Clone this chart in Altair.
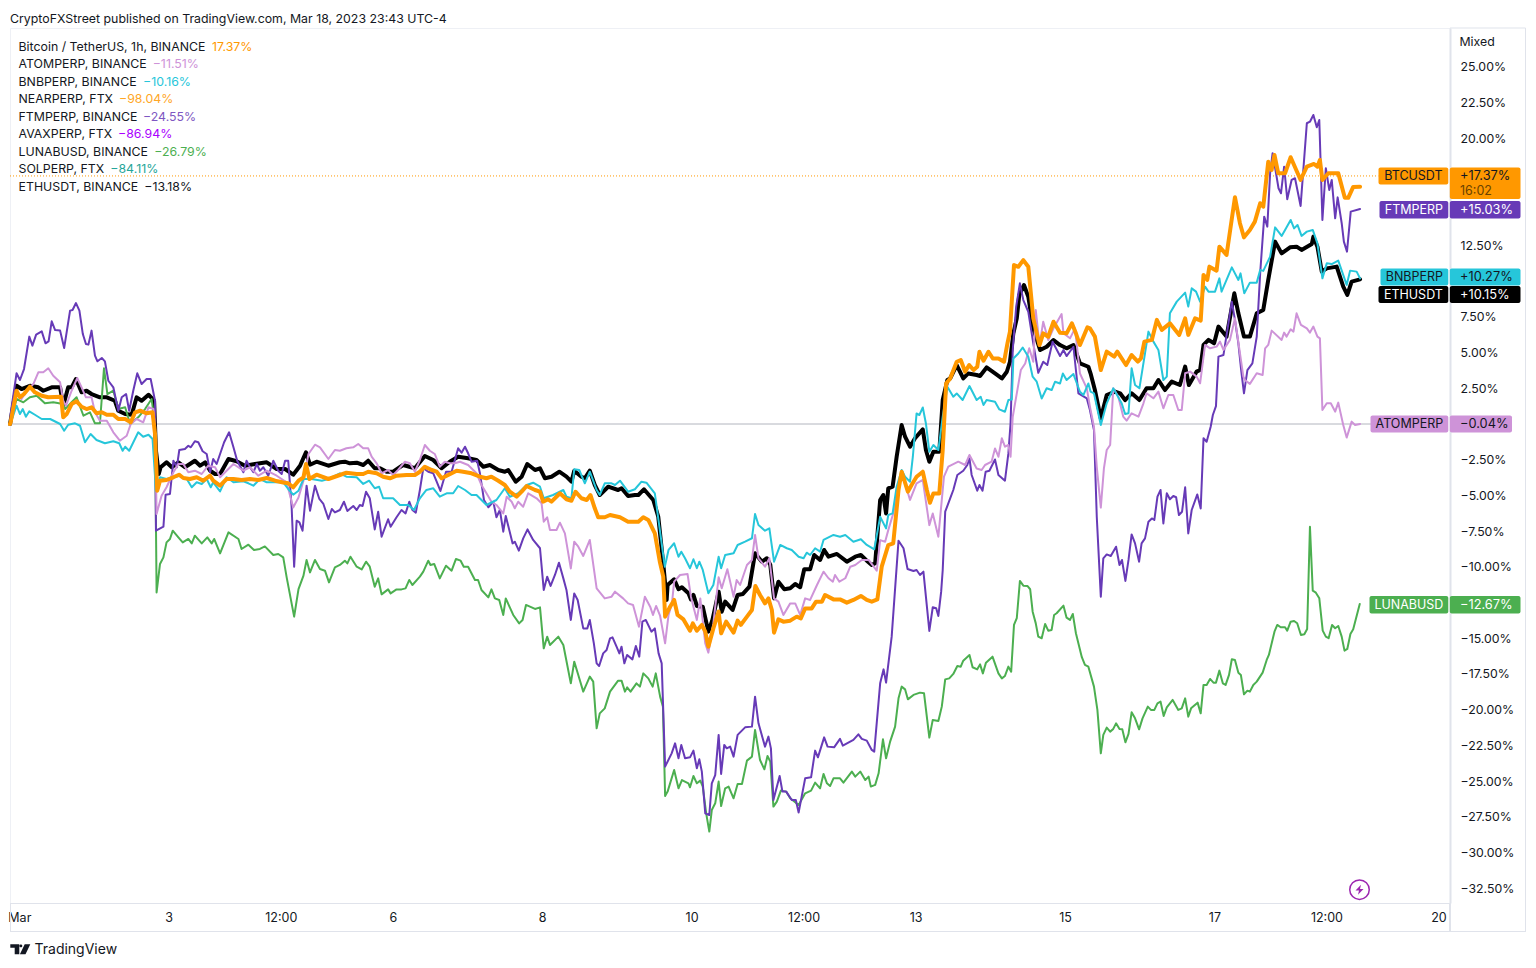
import altair as alt
import pandas as pd

# Each series: (hours since start of the chart, percent change)
BTC = [(0,0),(0.2,0.12),(2.1,2.33),(3.2,1.87),(4.5,2.1),(6.4,2.61),(8,2.22),(10.2,1.98),(12.3,1.87),(16.4,1.91),(17.1,0.47),(18.2,0.7),(19.8,1.4),(21.4,1.59),(23,1.21),(24.6,1.05),(26.2,1.17),(27.8,0.75),(29.5,0.82),(31.1,0.65),(33.2,0.65),(34.8,0.35),(37,0.35),(38.8,0.12),(40.2,0.82),(41.8,0.93),(43.9,0.75),(45.8,0.82),(46.6,-0.7),(47.3,-4.67),(48.2,-3.97),(50.3,-3.92),(52.5,-3.73),(54.3,-3.55),(55.7,-3.78),(57.8,-3.85),(60,-3.73),(62.1,-3.97),(64.3,-3.62),(65.3,-3.97),(67.5,-4.32),(69.6,-3.85),(71.8,-3.85),(74.4,-3.92),(77.1,-3.85),(79.8,-3.92),(82.5,-3.78),(85.2,-3.97),(87.8,-4.09),(89.4,-4.15),(91,-4.43),(92.7,-3.97),(94.3,-3.73),(95.1,-2.8),(96.2,-3.85),(98.5,-3.55),(102.3,-3.85),
(106,-3.57),(108.1,-3.41),(111.4,-3.5),(113.5,-3.5),(115.1,-3.34),(117.8,-3.45),(119.9,-3.69),(122.1,-3.8),(124.2,-3.62),(127.4,-3.57),(130.1,-3.57),(131.7,-3.34),(133.3,-2.99),(135.5,-3.22),(137.1,-3.34),(138.7,-3.8),(140.8,-3.57),(143.5,-3.27),(145.6,-3.34),(148.3,-3.45),(151,-3.69),(153.1,-3.8),(154.7,-3.69),(156.9,-3.97),(159,-4.27),(160.6,-4.74),(162.8,-5.09),(164.4,-4.74),(166,-4.34),(168.7,-4.62),(170.3,-4.74),(171.3,-5.44),(172.9,-5.27),(174,-5.44),(176.7,-4.85),(178.8,-5.27),(180.4,-5.37),(181.7,-4.74),(183.6,-5.2),(185.3,-5.32),(186.5,-4.97),(187.9,-5.9),(189,-6.53),(191.1,-6.53),(192.8,-6.37),(196,-6.53),(198.6,-6.84),(201.9,-6.84),(203.5,-6.53),(205.1,-6.72),(207.2,-7.66),(208.8,-9.64),(209.9,-10.69),
(210.5,-13.49),(212.1,-12.79),(213.4,-12.32),(214.5,-13.37),(216.4,-13.68),(218.5,-14.47),(219.4,-13.96),(220.7,-14.47),(222.3,-14.07),(223.4,-14.54),(224.4,-15.59),(226,-14.31),(227.7,-13.14),(228.5,-14.66),(230.1,-13.84),(232.5,-14.61),(233.8,-13.77),(234.8,-14.07),(236.8,-13.49),(238.4,-13.02),(239.5,-11.34),(241,-11.97),(242.6,-12.56),(243.7,-12.21),(244.8,-13.02),(245.5,-14.61),(246.9,-13.68),(248.5,-13.84),(250.7,-13.77),(252.8,-13.49),(254.1,-13.61),(255.5,-12.91),(257.6,-12.91),(259,-12.44),(260.9,-12.44),(261.9,-11.97),(264.6,-12.28),(266.7,-12.28),(268.9,-12.51),(271,-12.32),(273.4,-12.04),(275.3,-12.32),(276.9,-12.44),(278.7,-12.28),
(280.1,-9.99),(282.2,-8.48),(283.8,-8.36),(285.5,-4.62),(286.5,-3.34),(288.5,-4.74),(289.7,-4.27),(291.3,-3.69),(293.3,-3.34),(294.6,-4.62),(295.6,-5.51),(296.7,-4.86),(298.6,-4.86),(299.7,-1.82),(300.8,2.84),(302.1,3.19),(304.2,4.36),(305.5,4.48),(306.9,3.66),(308.2,4.13),(309.6,3.78),(310.8,4.01),(311.5,5.06),(312.8,4.43),(314.4,5.06),(315.8,4.59),(317.6,4.59),(319.4,4.36),(320.5,5.65),(321.3,6.46),(322.6,11.13),(324,11.01),(325.6,11.48),(327.2,11.01),(328.8,7.4),(330.8,5.53),(332,6.35),(333.6,6.11),(335.3,7.16),(337.4,6.39),(339.5,6.35),(341.2,7.05),(342.5,6.35),(343.8,5.53),(346.2,6.77),
(347,6.7),(348.6,6.12),(350.5,3.78),(352.4,5.07),(354.8,4.72),(355.8,5.07),(358.6,4.13),(360.4,4.83),(362.4,4.37),(363.4,4.6),(364.5,5.77),(366.9,5.89),(368.5,7.29),(370.1,6.59),(372.7,7.05),(375.7,6.24),(377.6,7.4),(378.6,6.24),(380.8,7.4),(382.6,7.24),(383.5,10.44),(384.7,10.09),(385.4,11.02),(387.7,10.74),(388.6,12.42),(390.9,11.84),(393.6,15.88),(395.2,14.06),(396.5,13.07),(398.4,13.59),(400,14.17),(401.7,15.46),(402.7,15.22),(404.3,18.37),(405.4,17.79),(406.3,18.84),(407.5,17.56),(409.7,17.56),(411.5,18.68),(414.7,17.09),(416.7,18.02),(419,18.21),(420.1,18.02),(420.9,18.49),(421.7,17.09),(423.6,17.56),(426.8,17.56),(428.9,15.84),(430,15.84),(431.6,16.6),(433.8,16.62)]

ETH = [(0,0),(0.2,0.23),(2.1,2.68),(3.7,2.45),(6.4,2.68),(9.1,2.57),(10.7,2.33),(13.4,2.57),(16.1,2.57),(17.1,1.28),(18.7,2.57),(19.8,2.57),(21.2,3.15),(23,2.22),(24.6,2.33),(26.2,2.1),(28.9,1.87),(31.1,1.87),(33.7,1.63),(34.8,0.93),(37,0.7),(39.1,0.65),(40.7,1.87),(42.3,1.63),(44.5,2.05),(46.3,1.63),(46.9,-1.87),(47.8,-3.5),(48.4,-3.03),(50.3,-2.68),(52,-3.03),(54.1,-2.68),(56.2,-3.03),(59.4,-2.57),(61.1,-2.92),(62.7,-2.68),(64.3,-3.27),(65.9,-3.5),(67.5,-3.5),(70.2,-2.45),(72.8,-2.61),(75.5,-2.92),(78.7,-2.8),(82.5,-2.68),(85.7,-3.15),(88.4,-3.15),(91,-3.55),(93.2,-2.92),(95.1,-1.98),(96.4,-2.85),(98.5,-2.64),(102.3,-2.92),
(106,-2.68),(107.6,-2.64),(109.2,-2.75),(111.4,-2.71),(113.5,-2.87),(115.1,-2.57),(117.2,-3.1),(118.9,-3.1),(121,-3.34),(123.1,-3.34),(126.3,-2.87),(130.1,-3.1),(133.3,-2.24),(136,-2.52),(138.7,-3.1),(141.3,-2.64),(144,-2.29),(147.2,-2.4),(149.9,-2.52),(152.1,-2.99),(154.2,-2.87),(156.9,-3.22),(159,-3.34),(160.1,-3.22),(162.5,-4.04),(164.4,-3.69),(166.2,-2.8),(168.7,-3.22),(170.3,-3.1),(171.9,-3.8),(174,-3.69),(176.5,-3.34),(178.8,-3.69),(180.4,-4.04),(181.3,-3.27),(183.6,-3.69),(184.7,-3.8),(186.3,-3.27),(187.9,-4.27),(189.5,-4.97),(192.2,-4.39),(195.4,-4.62),(196.5,-4.5),(198.6,-5.04),(200.8,-4.97),(201.9,-4.97),(203.7,-4.57),(206.7,-5.32),(208.3,-6.49),(209.9,-9.76),(211,-12.32),
(211.3,-11.27),(213.4,-10.87),(214.8,-11.57),(215.9,-11.43),(218,-11.85),(218.8,-12.28),(219.6,-11.97),(220.7,-12.74),(222.6,-12.79),(224.4,-14.54),(225.7,-13.72),(227.7,-11.74),(228.7,-13.14),(229.8,-12.44),(232.2,-13.02),(233.8,-11.97),(235.5,-11.9),(237.6,-11.39),(239.4,-9.05),(241.6,-9.64),(243.2,-9.4),(244.3,-9.87),(245.5,-12.21),(246.9,-11.04),(248.8,-11.57),(250.7,-11.5),(252.3,-11.2),(253.9,-11.43),(255.2,-10.17),(257.1,-10.17),(258.4,-9.17),(260.3,-9.52),(261.6,-8.82),(263,-9.29),(265.7,-9.1),(268.9,-9.64),(271.6,-9.29),(273.4,-9.17),(275.3,-9.57),(276.9,-9.87),(278,-9.75),
(279.6,-5.32),(280.6,-4.97),(281.5,-6.26),(282.2,-4.51),(283.6,-4.39),(284.9,-2.29),(286.5,-0.07),(287.6,-0.89),(289.2,-1.59),(290.8,-1),(293.3,-0.38),(294.3,-1.82),(295.4,-2.64),(296.7,-1.94),(298.6,-1.94),(299.7,1.68),(301.2,3.08),(302.1,3.19),(304.2,4.13),(306.3,3.19),(307.9,3.54),(310.6,3.43),(311.7,3.36),(313.8,3.96),(316.5,3.54),(318.7,3.19),(320.3,3.66),(321.3,4.36),(322.4,6.35),(323.5,7.4),(324.3,9.03),(325.8,9.73),(327.2,8.91),(328.8,6.7),(331,5.18),(333.1,5.41),(335.3,5.88),(337.4,5.53),(339.5,5.3),(341.7,5.53),(343.8,4.24),(346.5,4.01),
(347.2,3.55),(348.6,2.38),(350.5,0.4),(352.4,2.03),(355.1,2.27),(356.7,2.15),(358.3,1.68),(360.4,2.15),(362.9,1.68),(365.2,2.5),(367.4,2.5),(369,3.08),(371.1,2.38),(373.3,2.97),(375.9,2.73),(377.6,4.02),(378.8,2.73),(381.3,3.67),(382.4,3.78),(383.5,5.54),(385.1,5.89),(386.9,5.65),(388.3,6.82),(390.9,6.12),(393.4,9.15),(394.7,7.75),(396.5,6.12),(398.4,6.12),(400.6,7.75),(402.7,7.99),(404.3,10.09),(406.5,12.77),(408.6,11.95),(411.3,12.37),(413.4,12.42),(415,12.19),(418.3,12.61),(418.8,13.12),(420.1,12.42),(421.5,10.67),(423.1,10.9),(426.3,11.02),(428.4,9.62),(429.7,9.04),(431.1,9.97),(433.8,10.13)]

BNB = [(0,0),(0.2,0.05),(2.1,1.28),(3.2,0.7),(4.1,1.05),(5.1,0.51),(6.2,0.89),(8,0.65),(10.2,0.35),(12.9,0.35),(16.1,0),(17.4,-0.47),(18.7,-0.05),(20.9,0.05),(22.5,-0.12),(24.1,-1.28),(25.9,-0.7),(27.8,-1.12),(30.5,-1.35),(33.2,-1.21),(35.1,-1.35),(36.2,-1.87),(37,-1.59),(38.3,-1.87),(41.2,-0.58),(42.8,-0.89),(44.5,-0.75),(45.8,-1.05),(46.9,-4.67),(48.2,-3.73),(50.3,-3.85),(52.5,-3.73),(54.6,-3.62),(56.8,-3.85),(58.4,-4.43),(60,-4.08),(61.6,-4.2),(63.2,-3.85),(64.5,-4.43),(65.3,-4.08),(67.5,-4.72),(69.6,-3.73),(71.8,-4.08),(75,-4.01),(76.6,-4.15),(78.2,-4.32),(80.3,-3.85),(82.5,-4.08),(87.8,-4.08),(89.4,-4.55),(91,-4.95),(92.7,-4.67),(94.3,-3.85),(96.9,-3.85),(100.2,-3.97),(102.3,-3.85),
(106,-3.45),(108.1,-3.69),(111.4,-3.73),(113.5,-4.2),(115.4,-3.97),(117.2,-4.5),(118.6,-4.39),(119.9,-5.2),(123.1,-5.2),(125.3,-5.67),(128,-5.67),(129.8,-6.02),(131.7,-5.2),(133.8,-4.62),(136,-4.5),(138.1,-5.09),(140.3,-4.85),(142.4,-4.85),(144,-4.34),(146.2,-4.62),(148.3,-4.97),(149.9,-4.97),(153.1,-5.67),(156.3,-5.32),(159,-4.5),(160.6,-5.09),(163.3,-4.85),(166,-4.27),(168.1,-4.11),(170.3,-4.39),(171.5,-5.2),(174.5,-4.97),(177.8,-4.62),(178.8,-5.09),(180.4,-5.2),(181.3,-3.17),(182.9,-3.22),(184.7,-4.15),(186.3,-3.34),(188.5,-4.62),(189.5,-4.97),(191.1,-4.15),(193.3,-4.15),(194.4,-4.27),(196,-3.97),(198.6,-4.74),(200.8,-4.57),(202.9,-4.04),(204.5,-4.11),(207.2,-4.85),(208.8,-7.42),(210.4,-9.99),
(211.6,-8.82),(213.4,-8.35),(214.8,-9.29),(215.7,-8.94),(216.9,-9.4),(218.5,-10.1),(219.6,-9.47),(220.7,-10.1),(221.5,-9.64),(222.6,-10.22),(224.4,-11.85),(226,-11.27),(227.7,-9.29),(228.5,-10.1),(229.8,-9.17),(232.5,-9.05),(233.8,-8.47),(236.2,-8.24),(238.4,-8),(239.4,-6.3),(240.5,-7.07),(242.6,-7.47),(244,-7.3),(245.5,-9.64),(247.5,-8.47),(249.6,-8.7),(251.2,-8.82),(253.4,-9.29),(255,-9.4),(256,-9.01),(257.1,-9.17),(258.7,-8.7),(260.3,-8.94),(261.4,-8.12),(264.6,-7.77),(266.7,-7.89),(268.4,-7.77),(271,-8.24),(273.4,-8.07),(275.3,-8.47),(277.7,-8.77),
(279.6,-6.49),(281.5,-7.31),(282.2,-6.37),(283.6,-6.26),(284.9,-4.39),(286.5,-3.22),(287.6,-3.69),(289.2,-4.04),(290.1,-2.29),(291.3,0.74),(292.2,0.63),(293.3,1.16),(294.3,0.04),(295.4,-1.94),(296.7,-1.47),(298.3,-1.82),(299.7,0.51),(301.2,2.61),(303.1,1.91),(304.2,2.14),(306.1,1.68),(308.3,2.66),(310.6,1.68),(311.9,1.91),(312.8,1.33),(313.8,1.68),(316.5,1.56),(317.9,1.02),(319.7,0.86),(320.8,1.68),(321.9,1.72),(322.4,4.59),(324,4.94),(325.4,5.36),(327.2,4.71),(328.6,3.31),(329.9,2.96),(331.5,1.79),(333.1,2.5),(334.7,2.38),(335.8,2.96),(337.4,2.84),(338.3,3.54),(339.5,3.08),(341.7,3.5),(343.8,2.26),(344.9,2.03),(346.5,2.84),
(347.2,2.27),(348.3,2.15),(350.5,-0.07),(352.4,1.45),(354.5,2.5),(357.2,1.45),(358.3,0.7),(359.4,0.75),(360.4,3.9),(361.5,2.73),(362.9,2.5),(364.7,4.95),(365.8,6.47),(367.4,5.77),(369,5.19),(370.6,3.08),(371.7,3.32),(372.7,7.75),(374.9,8.57),(377.6,9.2),(378.6,8.22),(379.7,9.5),(381.1,9.27),(382.4,8.57),(384,9.62),(385.1,9.27),(387.2,9.27),(388.6,10.2),(389.3,9.27),(392.6,10.97),(394.7,10.09),(395.4,10.55),(396.6,9.15),(398.4,9.9),(400.6,9.9),(401.7,10.79),(402.7,10.72),(404.9,11.72),(406.5,13.77),(408.6,13.17),(409.7,13.59),(411.5,14.29),(412.6,13.7),(413.7,13.94),(415,13.17),(416.7,13.47),(418.6,13.59),(420.1,12.65),(421.7,10.2),(423.1,11.25),(424.7,11.2),(426.8,11.44),(429.5,9.74),(430.6,10.74),(432.7,10.67),(433.8,10.2)]

ATOM = [(0,0),(0.2,0.23),(2.1,2.33),(3.7,1.75),(5.4,2.33),(7.5,2.8),(9.1,3.62),(10.7,3.62),(12.3,3.9),(13.9,3.38),(16.1,2.92),(17.1,1.63),(18,1.28),(19.8,2.33),(21.6,3.22),(23,2.57),(24.4,1.87),(26.2,1.87),(27.3,0.82),(28.9,0.23),(31.1,0.23),(33.2,-0.58),(35.3,-1.17),(37.5,-0.82),(38.8,0),(40.7,0.35),(42.8,0.12),(44.5,1.17),(46.1,1.05),(46.7,-0.93),(47.1,-6.3),(48.7,-5.02),(50.3,-4.43),(52.5,-3.38),(54.1,-2.8),(55.7,-2.8),(57.3,-3.38),(59.4,-3.27),(61.6,-3.5),(63.7,-2.92),(65.9,-3.03),(67.5,-3.73),(69.6,-3.27),(71.8,-2.8),(75,-3.27),(77.1,-3.03),(79.8,-3.62),(82.5,-3.27),(85.7,-3.62),(88.9,-4.09),(91,-5.84),(92.7,-5.14),(94.3,-3.97),(95.9,-2.1),(98,-1.45),(99.6,-1.63),(102.3,-2.45),(104.4,-1.82),
(106,-1.87),(108.1,-1.7),(110.3,-1.63),(111.9,-1.4),(113.5,-1.7),(115.1,-1.7),(116.2,-2.29),(117.8,-2.75),(119.4,-3.45),(121.5,-3.22),(123.1,-3.57),(124.7,-3.22),(126.9,-2.64),(128.5,-2.75),(130.1,-3.34),(131.7,-2.52),(133.3,-1.47),(134.9,-1.87),(136.5,-2.1),(138.1,-2.99),(139.7,-2.64),(141.3,-2.75),(142.9,-2.75),(144.6,-2.64),(147.2,-2.87),(149.9,-3.45),(151.5,-4.27),(153.1,-4.85),(154.7,-5.44),(156.3,-5.67),(158.5,-6.26),(159.6,-5.09),(161.2,-5.44),(162.2,-5.9),(163.3,-5.44),(164.9,-5.79),(166.5,-4.85),(169.2,-5.2),(170.8,-5.55),(171.5,-6.84),(172.6,-6.53),(173.5,-7.42),(175.6,-7.42),(176.7,-6.91),(178.3,-7.66),(180.2,-10.11),(181.3,-8.24),(182.6,-8.59),(184.2,-9.24),(186.3,-8.12),(188.5,-11.51),(191.1,-12.21),(193.3,-12.09),(194.4,-11.74),(197,-12.21),(198.6,-12.56),(200.2,-12.67),(202.1,-14.19),(204,-12.09),
(205.7,-12.79),(206.6,-13.37),(207.6,-12.74),(208.9,-13.44),(210.5,-15.36),(211.6,-13.37),(212.7,-12.56),(213.4,-11.04),(215.3,-10.57),(217.7,-10.5),(218.8,-12.09),(219.6,-12.79),(220.7,-13.72),(221.8,-12.21),(223.4,-15.36),(224.4,-16.01),(226,-13.96),(227.7,-10.73),(228.7,-11.5),(230.5,-10.17),(232.5,-12.09),(233.5,-10.92),(234.6,-11.27),(236.8,-9.87),(238.4,-9.52),(239.4,-7.77),(240.5,-9.4),(242.6,-9.99),(244,-9.4),(245.5,-12.21),(246.9,-12.44),(248.5,-13.37),(250.7,-12.56),(252.3,-12.56),(253.9,-13.37),(255.5,-12.21),(257.1,-12.32),(259.3,-11.27),(261.4,-10.34),(263,-10.8),(264.4,-11.04),(265.1,-10.57),(266.5,-11.04),(268.4,-10.8),(270,-9.99),(271.6,-9.87),(273.7,-9.52),(275.9,-9.52),(278.5,-10.27),(279.6,-8.13),(281.2,-8.24),(282.2,-7.43),
(283.8,-6.26),(286.5,-3.34),(289.2,-5.32),(291.3,-4.16),(293.3,-3.92),(295.4,-7.08),(296.5,-6.26),(298.3,-7.89),(300.1,-3.69),(301.5,-2.99),(304.7,-2.64),(306.9,-2.87),(308.3,-2.17),(310.6,-3.11),(312.2,-3.22),(313.3,-2.87),(315.4,-2.64),(316.5,-1.71),(317.6,-2.29),(318.7,-1),(319.7,-1.59),(320.8,-1.47),(321.5,-2.29),(322.2,0.51),(323.5,2.14),(324.8,3.78),(326.2,4.24),(327.5,5.3),(328.8,4.36),(329.6,7.98),(330.8,5.53),(332,7.16),(333.6,5.88),(335.3,6.7),(337.9,7.7),(338.5,6.35),(340.6,6),(342.2,6.7),(343.8,3.54),(346,2.5),
(347,1.22),(348.3,-0.19),(349.2,-3),(350.5,-5.85),(351.5,-3.1),(352.4,-1.82),(353.5,-1.47),(354.5,2.5),(356.1,1.92),(357.7,0.52),(358.8,0.24),(360.4,0.75),(362.6,0.52),(364.2,1.45),(365.2,2.15),(367.4,1.8),(369,2.27),(370.6,1.1),(372.2,2.03),(373.8,2.03),(375.4,0.98),(376.5,0.98),(377.6,3.55),(379.2,3.67),(381.3,3.32),(382.4,2.85),(384,5.54),(385.6,5.3),(387.7,5.42),(388.8,5.77),(389.9,5.19),(392,5.89),(393.6,7.4),(394.9,5.42),(396.3,3.32),(396.8,3.08),(398.4,2.81),(400.6,3.55),(402.5,3.43),(403.3,5.3),(404.3,5.54),(405.4,6.54),(408.6,5.89),(409.4,6.4),(410.2,6.12),(411.5,6.63),(412.4,6.47),(413.4,7.75),(414.8,6.94),(416.7,6.7),(417.7,6.4),(418.8,6.82),(420.1,6.12),(420.9,6),(421.7,0.98),(423.1,1.45),(424.4,1.45),(425.8,0.87),(426.8,1.5),(428.4,-0.07),(429.5,-0.95),(431.1,0.17),(432.2,-0.07),(433.8,0)]

FTM = [(0,0),(0.2,0.7),(2.1,3.55),(3.2,3.08),(4.5,3.85),(6.2,6.12),(7.2,5.49),(8.4,6.26),(10.2,6.49),(11.4,5.65),(12.4,5.79),(13.4,7.19),(14.5,6.58),(16.1,6.54),(17.4,5.32),(19.3,7.94),(20.1,7.98),(21.2,8.47),(22.3,7.94),(23.4,6.3),(24.4,5.6),(25.2,5.56),(26.2,6.54),(27.3,4.79),(28.1,4.39),(29.5,4.62),(30.5,4.39),(31.6,3.03),(33.2,2.57),(34.8,0.93),(35.9,1.87),(37.3,2.1),(38.3,0.93),(39.6,2.33),(40.9,3.55),(42.3,2.8),(43.9,3.15),(45.2,3.15),(46.6,1.63),(46.9,-7.47),(49.3,-7.19),(50,-4.95),(51.4,-4.9),(52.5,-2.57),(53.6,-3.03),(54.4,-1.82),(56.2,-1.75),(57.3,-1.52),(58.1,-1.63),(59.4,-1.21),(60.5,-1.28),(61.9,-1.91),(63.2,-2.1),(64.3,-3.38),(65.3,-2.45),(66.4,-2.8),(67.5,-2.1),(68.8,-1.28),(70.4,-0.58),(71.8,-1.63),(73,-2.57),(75,-3.38),(76,-2.57),(77.1,-3.03),(78.2,-3.38),(79.3,-2.8),(80.3,-3.27),(81.4,-3.03),(83,-3.62),(84.6,-2.57),(86.2,-3.27),(87.3,-3.5),(88.4,-2.57),(89.4,-2.57),(90.5,-5.84),(91.3,-9.99),(92.1,-6.77),(93,-6.89),(94,-7.47),(95.3,-4.32),(96.4,-6.07),(98,-4.32),(99.4,-5.25),(100.7,-5.6),(102.3,-6.65),(103.4,-5.95),(104.4,-6.19),
(106,-6.02),(107.3,-5.44),(108.4,-6.09),(110.3,-5.74),(111.4,-6.02),(112.4,-5.67),(113.3,-5.74),(114.4,-4.74),(115.6,-5.2),(117.2,-7.38),(118.3,-6.14),(119.4,-7.89),(121.5,-6.67),(122.3,-7.19),(124.2,-6.53),(125.8,-6.02),(127.1,-6.26),(128.3,-5.44),(129.3,-6.02),(130.4,-6.21),(131.7,-4.62),(132.8,-3.1),(134.4,-3.34),(136,-3.45),(137.1,-4.04),(138.3,-4.69),(140.1,-3.34),(141.9,-3.34),(144,-1.7),(145.1,-2.01),(146.2,-1.59),(147.2,-2.05),(148.3,-2.64),(150.1,-2.57),(151,-3.45),(152.3,-5.32),(153.7,-5.83),(155.3,-5.44),(156.3,-6.53),(157.4,-6.02),(158.5,-7.54),(159.3,-6.44),(161.5,-8.36),(162.2,-8.24),(163.5,-8.87),(164.9,-8.01),(166.3,-7.38),(168.1,-8.12),(170.3,-8.7),(171.5,-11.62),(172.6,-10.69),(173.7,-11.34),(175.1,-10.57),(176.4,-9.71),(177.8,-10.81),(178.8,-11.62),(180.2,-13.72),(181.3,-11.86),(182.4,-12.32),(184.2,-14.31),(185.5,-14.31),(186.3,-13.72),(187.6,-15.36),(188.5,-16.76),(189.3,-16.94),(190.6,-16.06),(191.7,-15.82),(192.8,-15.01),(193.6,-14.94),(194.9,-15.59),(195.8,-16.06),(196.5,-15.59),(197.4,-16.76),(198.3,-16.17),(200,-16.48),(201.1,-15.54),(202.2,-16.29),(203.2,-13.84),(204.3,-13.72),(206.1,-14.54),(207.2,-14.31),(208.4,-16.06),(209.4,-16.76),
(210.5,-23.99),(212.6,-23.06),(213.7,-22.36),(214.8,-23.41),(215.7,-22.47),(216.9,-23.41),(218.5,-23.34),(219.6,-22.87),(220.7,-24.11),(221.5,-23.48),(222.3,-24.34),(223.4,-27.26),(224.7,-27.38),(225.5,-25.16),(226.6,-24.58),(227.7,-21.77),(228.5,-24.5),(229.5,-22.47),(230.3,-22.71),(231.4,-22.59),(232.5,-23.29),(233.8,-21.77),(236.2,-21.24),(238.4,-21.19),(239.4,-19.09),(240.5,-20.96),(242.6,-22.59),(243.7,-21.89),(244.5,-22.71),(245.3,-26.33),(247.3,-24.65),(248.2,-25.74),(249.4,-25.74),(251.2,-26.33),(252.5,-26.33),(253.4,-27.21),(255.5,-24.81),(257.4,-24.74),(258.7,-22.87),(259.6,-23.34),(261.6,-21.94),(262.7,-22.59),(264.8,-22.64),(266.7,-22.05),(267.6,-22.52),(271,-22.12),(272.6,-21.73),(273.7,-22.05),(275.3,-22.17),(276.9,-22.82),(277.7,-22.94),(279.6,-18.16),(280.7,-17.18),(281.5,-18.11),(283.3,-14.89),(285.5,-8.17),(287.1,-8.7),(288.4,-10.15),
(290.3,-10.29),(291.3,-10.22),(292.4,-10.57),(293.5,-10.34),(294.3,-12.09),(295.4,-14.49),(296.5,-12.83),(297.6,-12.9),(298.3,-13.44),(299.2,-11.74),(299.7,-10.22),(300.5,-6.14),(302.1,-5.21),(303.1,-4.62),(304.4,-3.57),(306.3,-3.27),(307.6,-2.87),(308.3,-2.41),(309,-3.57),(310.8,-4.67),(311.5,-4.27),(312.5,-4.67),(313.5,-3.34),(314.7,-3.27),(316.5,-2.48),(317.6,-3.57),(319.7,-3.97),(320.8,-2.06),(321.5,0.04),(322.2,5.18),(323.3,8.21),(324.5,9.85),(325.6,8.68),(327.2,7.86),(328.8,5.65),(330.4,3.59),(332,4.36),(333.3,4.13),(335,5.76),(337.4,4.76),(338.5,5.18),(339.5,4.76),(341.7,5.41),(343.3,2.14),(346,1.79),
(347,0.98),(348.3,-0.42),(349.2,-6.49),(350.5,-12.09),(351.3,-9.41),(352.4,-9.13),(353.7,-9.24),(355.4,-8.59),(356.5,-9.87),(357.3,-9.52),(358.4,-10.99),(359.4,-9.52),(360.4,-7.73),(361.5,-8.36),(362.8,-9.64),(363.6,-8.36),(364.7,-8.01),(365.8,-6.84),(366.9,-6.61),(367.7,-6.72),(368.7,-5.09),(369.7,-4.62),(370.6,-6.96),(371.7,-4.85),(372.7,-5.27),(373.8,-5.04),(374.7,-5.13),(375.6,-6.37),(376.6,-6.14),(377.6,-4.43),(378.6,-7.66),(379.7,-6.02),(381.5,-4.93),(382.6,-5.91),(383.5,-1),(384.5,-1.24),(385.8,-0.19),(386.5,0.63),(387.5,1.25),(388.3,4.72),(389.9,4.83),(392.6,8.57),(393.6,7.29),(394.7,5.65),(395.6,3.78),(396.5,2.15),(397.6,3.78),(399.2,4.25),(400.6,6.12),(401.7,10.55),(403,14.52),(404,13.82),(404.9,17.56),(405.7,18.96),(406.8,17.56),(407.6,16.51),(408.4,16.16),(409.4,18.02),(410.4,15.74),(411.8,17.09),(412.9,17.21),(414.7,15.27),(416.7,21.06),(417.7,21.17),(418.8,21.64),(419.9,20.78),(420.7,21.29),(421.7,14.29),(422.8,17.91),(423.9,16.39),(424.7,17.09),(425.8,14.4),(426.6,15.87),(427.9,14.06),(428.6,12.77),(429.6,12.07),(430.8,14.87),(433.8,15.06)]

LUNA = [(0,0),(0.2,0.12),(2.1,1.75),(4.3,1.52),(6.4,1.87),(8.6,1.98),(11.2,1.45),(13.9,1.52),(17.1,1.4),(17.7,1.05),(19.8,1.52),(21.4,1.87),(23.6,0.58),(25.7,0.82),(27.3,0.05),(28.9,0.05),(30.2,3.9),(31.3,2.1),(33.2,2.33),(34.8,1.05),(37,1.17),(38.6,0),(41.2,0.47),(43.4,1.05),(45.5,1.75),(46.6,0),(47.1,-11.79),(48.2,-9.8),(49.3,-9.34),(50.3,-8.29),(51.4,-8.05),(52.3,-7.47),(54.1,-7.94),(55.5,-8.29),(57.3,-8.05),(58.4,-8.36),(59.4,-7.82),(61.6,-8.36),(63.4,-7.94),(64.8,-8.36),(65.6,-8.05),(67.5,-9.06),(70.2,-7.59),(73.4,-8.05),(74.4,-8.75),(76.6,-8.45),(78.4,-8.82),(80.3,-8.75),(81.9,-8.57),(84.6,-9.17),(86.2,-9.1),(87.8,-9.34),(88.9,-10.74),(91.3,-13.49),(92.7,-11.56),(94.3,-10.62),(95.3,-9.52),(96.4,-10.39),(98,-9.52),(99.6,-10.15),(101.2,-10.27),(102.5,-11.09),(104.4,-10.04),
(106,-9.87),(107.6,-9.57),(108.4,-9.76),(109.4,-9.29),(111.4,-9.99),(113,-10.18),(114.4,-9.64),(115.6,-9.99),(117.2,-11.39),(118.3,-10.81),(119.4,-11.93),(121.5,-11.58),(122.3,-11.86),(124.2,-11.58),(125.8,-11.58),(127.1,-11.51),(128.3,-10.92),(129.3,-11.27),(131.7,-10.69),(132.8,-10.34),(134.4,-9.57),(135.1,-9.87),(136.3,-9.8),(138.1,-10.81),(140.1,-9.92),(141.9,-10.27),(143.3,-9.45),(144.8,-9.57),(145.8,-9.99),(147.2,-9.99),(149.4,-10.92),(150.4,-10.92),(151.5,-11.62),(153.7,-12.14),(154.7,-11.58),(155.8,-12.21),(157.2,-12.32),(158.5,-13.37),(159.3,-12.21),(161.7,-13.37),(163.6,-13.96),(164.7,-13.72),(165.8,-12.67),(168.7,-12.95),(170.3,-12.84),(171.5,-15.71),(172.6,-14.89),(173.5,-15.47),(176.2,-14.89),(177.8,-15.47),(180.2,-18.16),(181.3,-16.64),(182.6,-17.57),(184.2,-18.74),(186.3,-17.69),(187.4,-18.04),(188.5,-21.31),(189.5,-20.26),(191.1,-19.91),(192.8,-18.74),(195.4,-17.97),(196.5,-17.97),(197.6,-18.74),(198.3,-18.44),(199.4,-18.74),(201.3,-18.16),(202.4,-18.39),(203.5,-17.46),(205.1,-17.81),(206.5,-18.39),(207.5,-17.46),
(208.9,-19.09),(209.8,-19.79),(210.5,-26.05),(211.3,-25.74),(213.4,-24.23),(214.8,-25.51),(215.9,-24.93),(218,-25.16),(218.5,-25.44),(219.6,-24.65),(220.7,-25.16),(221.8,-24.97),(222.6,-25.39),(223.7,-27.26),(224.7,-28.54),(225.5,-27.03),(226.6,-26.56),(227.7,-25.04),(228.5,-26.75),(229.8,-25.51),(230.9,-25.39),(232.5,-26.21),(233.8,-25.21),(235.2,-25.21),(236.8,-23.57),(238.4,-23.29),(239.4,-21.42),(241,-23.53),(242.4,-24.18),(243.4,-23.25),(244.3,-23.64),(245.3,-26.79),(246.4,-26.44),(247.7,-25.67),(249.4,-25.74),(250.7,-26.21),(253.4,-26.68),(255.5,-25.86),(257.4,-25.67),(258.7,-25.11),(260.3,-25.51),(261.4,-24.5),(262.5,-25.16),(263.5,-25.35),(264.6,-24.81),(266.7,-24.81),(267.8,-25.11),(270.5,-24.34),(271.6,-24.69),(273.2,-24.34),(274.8,-24.93),(275.9,-24.69),(276.6,-25.39),(278,-25.27),(279.1,-24.46),(280.5,-22.08),(281.5,-23.41),(282.8,-22.24),(284.4,-21.19),
(285.5,-19.21),(286.5,-18.39),(287.6,-18.58),(288.5,-19.28),(290.3,-18.97),(292.4,-18.81),(293.7,-18.86),(295.4,-21.96),(296.5,-20.72),(298.3,-20.79),(299.4,-19.79),(300.5,-17.88),(301.8,-17.81),(303.1,-17.5),(304.4,-16.94),(305.5,-16.99),(306.3,-16.57),(308.3,-16.17),(309.3,-17.03),(310.8,-17.18),(311.7,-16.83),(312.6,-17.46),(313.6,-16.71),(315.7,-16.29),(317.6,-17.46),(318.7,-17.81),(319.7,-17.64),(320.8,-16.99),(321.7,-17.34),(322.6,-14.07),(323.5,-13.6),(324.5,-10.99),(325.6,-11.32),(326.9,-11.34),(327.8,-11.57),(328.6,-13.14),(329.6,-13.96),(330.4,-14.89),(331.5,-15),(332.6,-14),(333.6,-14.47),(334.7,-14.42),(335.5,-13.37),(336.3,-13.25),(338.5,-12.72),(339.5,-13.56),(340.6,-13.72),(341.5,-13.3),(342.5,-14.65),(344.4,-16.33),(345.4,-16.87),(346.5,-16.99),(348.3,-18.39),(349.4,-20.02),(350.5,-23.06),(351.3,-21.77),(352.4,-21.26),(353.5,-21.54),(354.5,-21.35),(355.4,-20.96),(356.5,-21.35),(357.4,-21.38),(358.4,-22.29),(359.4,-21.7),(360.4,-20.19),(361.5,-20.61),(362.8,-21.38),(363.9,-20.61),(365.6,-19.79),(366.6,-20.02),(367.7,-20.02),(368.7,-19.56),(369.7,-19.44),(370.7,-20.44),(371.7,-19.84),(373.6,-19.32),(375.4,-20.02),(376.5,-19.91),(377.6,-19.21),(378.6,-20.49),(379.5,-19.91),(381.6,-19.51),(382.6,-20.26),(383.5,-18.27),(384.5,-18.27),(385.6,-17.85),(386.7,-18.11),(387.5,-18.11),(388.6,-17.27),(389.7,-18.16),(390.6,-18.27),(391.7,-17.57),(392.6,-16.47),(393.6,-16.52),(394.7,-17.41),(395.5,-17.57),(396.5,-18.93),(397.6,-18.67),(398.4,-18.74),(399.5,-18.27),(400.6,-18.04),(402.5,-17.41),(403.8,-16.52),(404.5,-16.17),(406.3,-14.54),(407.2,-14.07),(408.3,-14.23),(409.7,-14.23),(410.4,-14.47),(411.5,-13.84),(412.6,-13.79),(413.6,-13.95),(414.8,-14.77),(415.9,-14.72),(416.8,-14.35),(417.7,-7.19),(418.6,-11.67),(419.6,-11.81),(420.7,-12.2),(421.8,-14.47),(422.8,-14.89),(423.7,-15),(424.8,-14.07),(425.8,-14.3),(426.8,-14.14),(427.9,-14.89),(428.8,-15.87),(429.7,-15.75),(430.7,-14.7),(431.6,-14.37),(433.7,-12.6)]

# Axis contents
X_TICK_HOURS = [3, 51, 87, 123, 171, 219, 255, 291, 339, 387, 423, 459]
X_TICK_LABELS = ["Mar", "3", "12:00", "6", "8", "10", "12:00", "13", "15", "17", "12:00", "20"]
Y_TICKS = [25, 22.5, 20, 12.5, 7.5, 5, 2.5, -2.5, -5, -7.5, -10, -15, -17.5, -20, -22.5, -25, -27.5, -30, -32.5]

TITLE = "CryptoFXStreet published on TradingView.com, Mar 18, 2023 23:43 UTC-4"
LEGEND_NAMES = ["Bitcoin / TetherUS, 1h, BINANCE", "ATOMPERP, BINANCE", "BNBPERP, BINANCE", "NEARPERP, FTX",
                "FTMPERP, BINANCE", "AVAXPERP, FTX", "LUNABUSD, BINANCE", "SOLPERP, FTX", "ETHUSDT, BINANCE"]
LEGEND_VALUES = ["17.37%", "\u221211.51%", "\u221210.16%", "\u221298.04%", "\u221224.55%", "\u221286.94%", "\u221226.79%", "\u221284.11%", "\u221213.18%"]
LEGEND_COLORS = ["#ff9800", "#ce93d8", "#26c6da", "#ffa726", "#7e57c2", "#aa00ff", "#4caf50", "#26a69a", "#131722"]
LEGEND_VALUE_X = [212, 152.7, 143, 119, 143, 118, 154.3, 110.3, 144.3]
LEGEND_Y = [46.5, 64, 81.5, 99, 116.5, 134, 151.5, 169, 186.5]

# left label, right value, colour, text colour, box top, box bottom, box left, box right of value
TAGS = [
    ("BTCUSDT", "+17.37%", "#ff9800", "#131722", 167.5, 184.5, 1378.5, 1520.5),
    ("FTMPERP", "+15.03%", "#673ab7", "#ffffff", 201, 218.5, 1379.5, 1520.5),
    ("BNBPERP", "+10.27%", "#26c6da", "#131722", 268.5, 285.5, 1380.5, 1520.5),
    ("ETHUSDT", "+10.15%", "#000000", "#ffffff", 286, 303, 1378.5, 1520.5),
    ("ATOMPERP", "\u22120.04%", "#ce93d8", "#131722", 415.5, 432.5, 1370.5, 1512),
    ("LUNABUSD", "\u221212.67%", "#4caf50", "#ffffff", 596, 613.5, 1369.5, 1520.5),
]

FONT = "Inter"
INK = "#131722"
BORDER = "#e0e3eb"
TEXT_SIZE = 12.35
PX0, PY0 = 10, 28   # page position of the plot's corner
ONE = alt.Data(values=[{"k": 1}])

x_expr = "{" + ",".join(f"'{h}':'{t}'" for h, t in zip(X_TICK_HOURS, X_TICK_LABELS)) + "}[datum.value]"
X = alt.X("h:Q", scale=alt.Scale(domain=[0, 462.7], nice=False, zero=False),
          axis=alt.Axis(values=X_TICK_HOURS, labelExpr=x_expr, title=None, grid=False, ticks=False,
                        labelFont=FONT, labelFontSize=12.5, labelColor=INK, labelPadding=8, labelFlush=False,
                        labelOverlap=False, domainColor=BORDER, domainWidth=1))
Y = alt.Y("v:Q", scale=alt.Scale(domain=[-33.54, 27.73], nice=False, zero=False),
          axis=alt.Axis(orient="right", values=Y_TICKS,
                        labelExpr="replace(format(datum.value,'.2f'),'-','\u2212')+'%'",
                        title=None, grid=False, ticks=False, labelFont=FONT, labelFontSize=12.3,
                        labelColor=INK, labelPadding=10, labelOverlap=False, domainColor=BORDER, domainWidth=2))


def text(s, px, py, color=INK, size=TEXT_SIZE, align="left", **kw):
    return alt.Chart(ONE).mark_text(text=s, align=align, baseline="middle", font=FONT, fontSize=size,
                                    color=color, **kw).encode(x=alt.value(px - PX0), y=alt.value(py - PY0))


def box(l, t, r, b, color, radius=2):
    return alt.Chart(ONE).mark_rect(color=color, cornerRadius=radius).encode(
        x=alt.value(l - PX0), x2=alt.value(r - PX0), y=alt.value(t - PY0), y2=alt.value(b - PY0))


def line(points, color, width):
    df = pd.DataFrame(points, columns=["h", "v"])
    return alt.Chart(df).mark_line(color=color, strokeWidth=width, strokeJoin="round", strokeCap="round").encode(x=X, y=Y)


zero = alt.Chart(pd.DataFrame({"h": [0], "h2": [437.5], "v": [0]})).mark_rule(color="#b2b5be", strokeWidth=1).encode(x=X, x2="h2:Q", y=Y)
last = alt.Chart(pd.DataFrame({"h": [0], "h2": [439.7], "v": [17.37]})).mark_rule(color="#ff9800", strokeWidth=1, strokeDash=[1, 2]).encode(x=X, x2="h2:Q", y=Y)

layers = [zero, last,
          line(ETH, "#000000", 4), line(LUNA, "#4caf50", 2), line(FTM, "#673ab7", 2),
          line(ATOM, "#ce93d8", 2), line(BNB, "#26c6da", 2), line(BTC, "#ff9800", 4)]

# frame round the price axis and time axis
layers += [box(1450, 27.5, 1525.5, 28.5, BORDER, 0), box(1525, 28, 1526, 931.5, BORDER, 0),
           box(10, 931, 1526, 932, BORDER, 0), box(10, 903, 11, 932, BORDER, 0), box(1449, 903, 1451, 932, BORDER, 0)]

# end-of-line tags
for name, val, col, tc, top, bot, left, right in TAGS:
    extra = 14.5 if name == "BTCUSDT" else 0
    layers.append(box(left, top, 1448.3, bot, col))
    layers.append(box(1449.8, top, right, bot + extra, col))
    layers.append(text(name, (left + 1448.3) / 2, (top + bot) / 2, tc, 12.5, "center"))
    layers.append(text(val, 1460, (top + bot) / 2, tc, 12.8))
layers.append(text("16:02", 1460, 190.5, "#6b4300", 12.5))
layers.append(text("Mixed", 1459.5, 41.5, INK, 12.3))

# legend and titles
layers.append(text(TITLE, 10, 18.5))
for n, v, c, vx, y in zip(LEGEND_NAMES, LEGEND_VALUES, LEGEND_COLORS, LEGEND_VALUE_X, LEGEND_Y):
    layers.append(text(n, 18.5, y))
    layers.append(text(v, vx, y, c))

# footer logo and lightning badge
LOGO = ("M-0.5 -0.25 H-0.05 V0.25 H-0.28 V-0.08 H-0.5 Z "
        "M-0.04 -0.17 a0.07 0.07 0 1 0 0.14 0 a0.07 0.07 0 1 0 -0.14 0 Z "
        "M0.22 -0.25 H0.5 L0.26 0.25 H-0.02 Z")
BOLT = "M0.15 -0.5 L-0.4 0.08 L-0.05 0.08 L-0.15 0.5 L0.4 -0.08 L0.05 -0.08 Z"
layers.append(alt.Chart(ONE).mark_point(shape=LOGO, size=1600, filled=True, color=INK, opacity=1).encode(
    x=alt.value(20.3 - PX0), y=alt.value(949.3 - PY0)))
layers.append(text("TradingView", 34.5, 949.5, INK, 14))
layers.append(alt.Chart(ONE).mark_point(shape="circle", size=380, filled=False, color="#9c27b0", strokeWidth=1.5, opacity=1).encode(
    x=alt.value(1359.5 - PX0), y=alt.value(889.7 - PY0)))
layers.append(alt.Chart(ONE).mark_point(shape=BOLT, size=400, filled=True, color="#9c27b0", opacity=1).encode(
    x=alt.value(1359.5 - PX0), y=alt.value(889.7 - PY0)))

chart = alt.layer(*layers).properties(
    width=1440, height=875,
    padding={"left": 2, "top": 20, "right": 78, "bottom": 57},
    autosize=alt.AutoSizeParams(type="none"),
    background="#ffffff",
).configure_view(stroke="#eef0f5", strokeWidth=1)

chart.save("out.html", embed_options={"renderer": "svg", "actions": False})
